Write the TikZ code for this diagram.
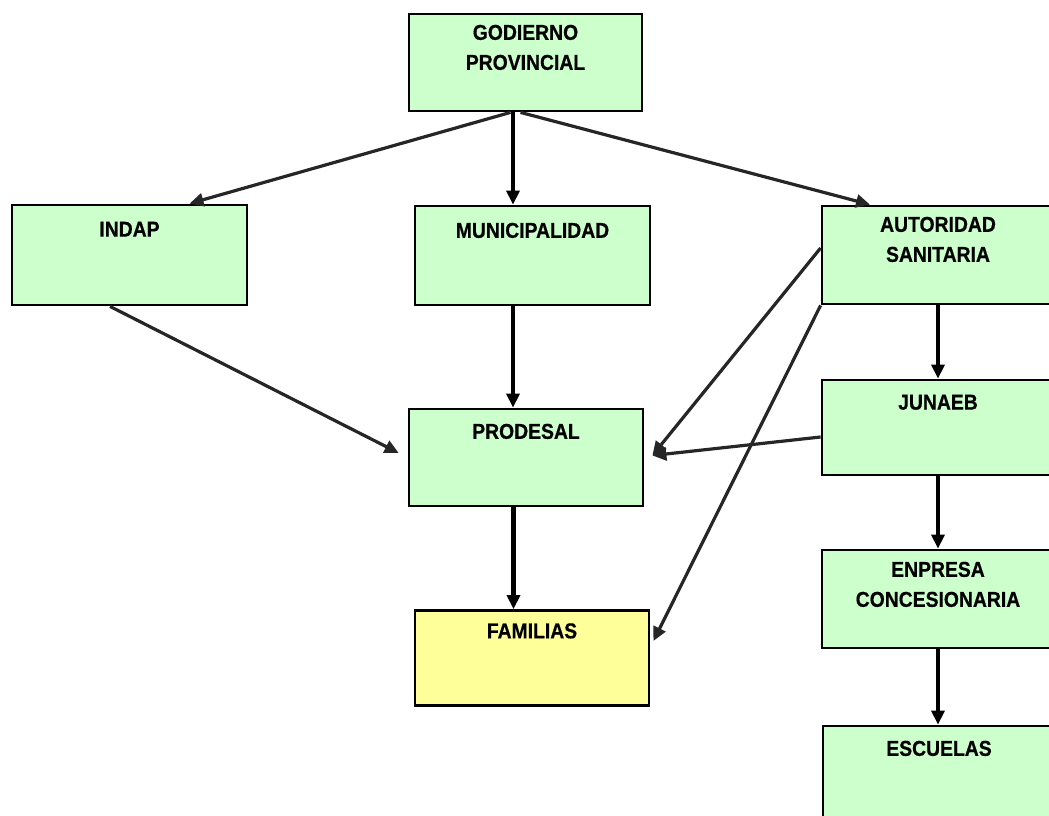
\documentclass[tikz,border=0pt]{standalone}
\usepackage{fontspec}
\newfontfamily\boxfont{Liberation Sans}[FakeStretch=0.9, FakeBold=0.6]
\usetikzlibrary{arrows.meta,calc}
\definecolor{boxgreen}{RGB}{204,255,204}
\definecolor{boxyellow}{RGB}{255,255,153}
\tikzset{
  box/.style={draw=black, line width=2.8pt, fill=boxgreen, inner sep=0pt},
  boxtxt/.style={anchor=north, inner sep=0pt, align=center,
    font=\boxfont\bfseries\fontsize{21.5}{30}\selectfont},
  vconn/.style={line width=4.5pt, -{Triangle[length=14pt,width=13pt]}},
  dconn/.style={line width=3.2pt, draw=black!85, -{Triangle[length=14pt,width=13pt]}}
}
\begin{document}
\begin{tikzpicture}[x=1pt,y=-1pt]
\useasboundingbox (0,0) rectangle (1049,816);
% boxes
\node[box, minimum width=233pt, minimum height=97pt] (gob) at (525.5,62.5) {};
\node[box, minimum width=235pt, minimum height=100pt] (indap) at (129.5,255) {};
\node[box, minimum width=235pt, minimum height=99pt] (muni) at (532.5,255.5) {};
\node[box, minimum width=232pt, minimum height=98pt] (auto) at (938,255) {};
\node[box, minimum width=232pt, minimum height=95pt] (junaeb) at (938,427.5) {};
\node[box, minimum width=234pt, minimum height=97pt] (prodesal) at (526,457.5) {};
\node[box, fill=boxyellow, minimum width=234pt, minimum height=95pt] (familias) at (532,658) {};
\node[box, minimum width=232pt, minimum height=98pt] (enpresa) at (938,599) {};
\node[box, minimum width=232pt, minimum height=100pt] (escuelas) at (939,776) {};
% texts
\node[boxtxt] (gobt) at ([yshift=-12pt]gob.north) {GODIERNO\\PROVINCIAL};
\node[boxtxt] (indapt) at ([yshift=-18pt]indap.north) {INDAP};
\node[boxtxt] (munit) at ([yshift=-18pt]muni.north) {MUNICIPALIDAD};
\node[boxtxt] (autot) at ([yshift=-12pt]auto.north) {AUTORIDAD\\SANITARIA};
\node[boxtxt] (junaebt) at ([yshift=-16pt]junaeb.north) {JUNAEB};
\node[boxtxt] (prodesalt) at ([yshift=-16pt]prodesal.north) {PRODESAL};
\node[boxtxt] (familiast) at ([yshift=-14pt]familias.north) {FAMILIAS};
\node[boxtxt] (enpresat) at ([yshift=-13pt]enpresa.north) {ENPRESA\\CONCESIONARIA};
\node[boxtxt] (escuelast) at ([yshift=-16pt]escuelas.north) {ESCUELAS};
% connectors
\coordinate (gobs) at ([xshift=-12.5pt]gob.south);
\draw[dconn] ([xshift=-15pt]gob.south) -- ([xshift=60pt]indap.north);
\draw[vconn] (gobs) -- (gobs |- muni.north);
\draw[dconn] ([xshift=-5pt]gob.south) -- ([xshift=-68pt]auto.north);
\draw[dconn, shorten >=10pt] ([xshift=-19.5pt]indap.south) -- (prodesal.west);
\draw[vconn] ([xshift=-19.5pt]muni.south) -- ([xshift=-19.5pt]muni.south |- prodesal.north);
\coordinate (pe) at ([xshift=8pt,yshift=2pt]prodesal.east);
\draw[dconn] ([yshift=7pt]auto.west) -- (pe);
\draw[dconn] ([yshift=-9.5pt]junaeb.west) -- (pe);
\draw[dconn] (auto.south west) -- ([xshift=3pt,yshift=17pt]familias.east);
\draw[vconn] ([xshift=-12.5pt]prodesal.south) -- ([xshift=-12.5pt]prodesal.south |- familias.north);
\draw[vconn] (auto.south) -- (junaeb.north);
\draw[vconn] (junaeb.south) -- (enpresa.north);
\draw[vconn] (enpresa.south) -- (enpresa.south |- escuelas.north);
\end{tikzpicture}
\end{document}
